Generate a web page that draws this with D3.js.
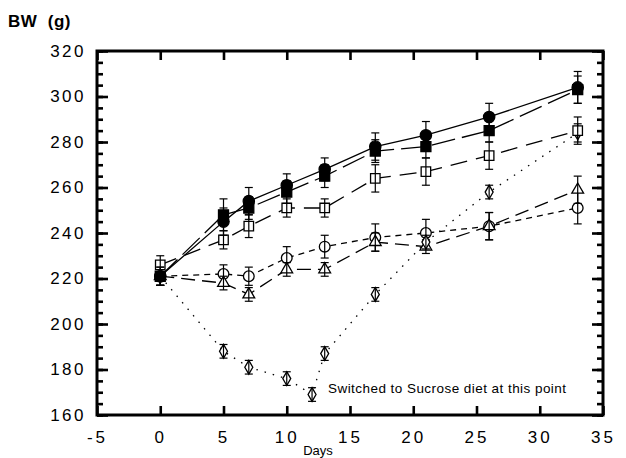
<!DOCTYPE html>
<html>
<head>
<meta charset="utf-8">
<script src="https://cdn.jsdelivr.net/npm/d3@7/dist/d3.min.js"></script>
<style>
    body { margin: 0; background: #fff; }
    svg text { font-family: "Liberation Sans", Arial, Helvetica, sans-serif; fill: #000; }
</style>
</head>
<body>
<svg id="chart" width="626" height="458"></svg>
<script>
// days shared by the five feeding groups
var days = [0, 5, 7, 10, 13, 17, 21, 26, 33];

var filledCircleBW = [221, 245, 254, 261, 268, 278, 283, 291, 304];
var filledCircleErr = [4, 6, 6, 5, 5, 6, 6, 6, 7];

var filledSquareBW = [221, 248, 251, 258, 265, 276, 278, 285, 303];
var filledSquareErr = [4, 7, 5, 5, 5, 5, 5, 5, 6];

var openSquareBW = [226, 237, 243, 251, 251, 264, 267, 274, 285];
var openSquareErr = [4, 4, 5, 4, 4, 6, 6, 6, 6];

var openCircleBW = [221, 222, 221, 229, 234, 238, 240, 243, 251];
var openCircleErr = [4, 4, 4, 5, 5, 6, 6, 6, 7];

var triangleBW = [221, 218, 213, 224, 224, 236, 234, 243, 259];
var triangleErr = [4, 3, 3, 3, 3, 4, 3, 6, 6];

// sucrose group, has extra weighing on day 12
var diamondDays = [0, 5, 7, 10, 12, 13, 17, 21, 26, 33];
var diamondBW = [221, 188, 181, 176, 169, 187, 213, 236, 258, 284];
var diamondErr = [4, 3, 3, 3, 3, 3, 3, 3, 3, 4];

var xTicks = [-5, 0, 5, 10, 15, 20, 25, 30, 35];
var yTicks = [160, 180, 200, 220, 240, 260, 280, 300, 320];

var svg = d3.select('#chart');

var x = d3.scaleLinear().domain([-5, 35]).range([97, 603]);
var y = d3.scaleLinear().domain([160, 320]).range([415, 51]);

function toPoints(xs, ys, es) {
    return xs.map(function (d, i) {
        return { day: d, bw: ys[i], err: es[i] };
    });
}

var series = [
    { pts: toPoints(days, openCircleBW, openCircleErr), dash: '6,5', shape: d3.symbolCircle, size: 90, filled: false },
    { pts: toPoints(days, triangleBW, triangleErr), dash: '14,7', shape: d3.symbolTriangle, size: 60, filled: false },
    { pts: toPoints(diamondDays, diamondBW, diamondErr), dash: '1.5,7', shape: d3.symbolDiamond, size: 55, filled: false },
    { pts: toPoints(days, openSquareBW, openSquareErr), dash: '17,9', shape: d3.symbolSquare, size: 90, filled: false },
    { pts: toPoints(days, filledSquareBW, filledSquareErr), dash: '24,7', shape: d3.symbolSquare, size: 100, filled: true },
    { pts: toPoints(days, filledCircleBW, filledCircleErr), dash: null, shape: d3.symbolCircle, size: 100, filled: true }
];

var line = d3.line()
    .x(function (d) { return x(d.day); })
    .y(function (d) { return y(d.bw); });

// connecting lines first
series.forEach(function (s) {
    svg.append('path')
        .datum(s.pts)
        .attr('d', line)
        .attr('fill', 'none')
        .attr('stroke', '#000')
        .attr('stroke-width', 1.3)
        .attr('stroke-dasharray', s.dash);
});

// markers, then error bars through them
series.forEach(function (s) {
    var g = svg.append('g');
    g.selectAll('path.mark')
        .data(s.pts)
        .enter().append('path')
        .attr('class', 'mark')
        .attr('transform', function (d) { return 'translate(' + x(d.day) + ',' + y(d.bw) + ')'; })
        .attr('d', d3.symbol().type(s.shape).size(s.size))
        .attr('fill', s.filled ? '#000' : '#fff')
        .attr('stroke', '#000')
        .attr('stroke-width', 1.3);

    var eb = g.selectAll('g.err')
        .data(s.pts)
        .enter().append('g')
        .attr('class', 'err')
        .attr('stroke', '#000')
        .attr('stroke-width', 1.2);
    eb.append('line')
        .attr('x1', function (d) { return x(d.day); })
        .attr('x2', function (d) { return x(d.day); })
        .attr('y1', function (d) { return y(d.bw + d.err); })
        .attr('y2', function (d) { return y(d.bw - d.err); });
    [1, -1].forEach(function (sign) {
        eb.append('line')
            .attr('x1', function (d) { return x(d.day) - 4; })
            .attr('x2', function (d) { return x(d.day) + 4; })
            .attr('y1', function (d) { return y(d.bw + sign * d.err); })
            .attr('y2', function (d) { return y(d.bw + sign * d.err); });
    });
});

// axes: ticks pointing inward on all four sides
var yMinor = d3.range(160, 321, 5);

function styleAxis(g) {
    g.select('.domain').remove();
    g.selectAll('.tick line').attr('stroke', '#000').attr('stroke-width', 2.6);
}

svg.append('g')
    .attr('transform', 'translate(0,' + y(160) + ')')
    .call(d3.axisBottom(x).tickValues(xTicks).tickSize(-9).tickPadding(25)
        .tickFormat(function (d) { return d < 0 ? '-' + Math.abs(d) : d; }))
    .call(styleAxis)
    .selectAll('text')
    .attr('font-size', 17)
    .attr('letter-spacing', '3px')
    .attr('dy', '0.2em');

svg.append('g')
    .attr('transform', 'translate(0,' + y(320) + ')')
    .call(d3.axisTop(x).tickValues(xTicks).tickSize(-9).tickFormat(''))
    .call(styleAxis);

svg.append('g')
    .attr('transform', 'translate(' + x(-5) + ',0)')
    .call(d3.axisLeft(y).tickValues(yMinor).tickSize(-6).tickFormat(''))
    .call(styleAxis);

svg.append('g')
    .attr('transform', 'translate(' + x(-5) + ',0)')
    .call(d3.axisLeft(y).tickValues(yTicks).tickSize(-11).tickPadding(11))
    .call(styleAxis)
    .selectAll('text')
    .attr('font-size', 17)
    .attr('letter-spacing', '2.5px');

svg.append('g')
    .attr('transform', 'translate(' + x(35) + ',0)')
    .call(d3.axisRight(y).tickValues(yMinor).tickSize(-6).tickFormat(''))
    .call(styleAxis);

svg.append('g')
    .attr('transform', 'translate(' + x(35) + ',0)')
    .call(d3.axisRight(y).tickValues(yTicks).tickSize(-11).tickFormat(''))
    .call(styleAxis);

// frame
svg.append('rect')
    .attr('x', x(-5))
    .attr('y', y(320))
    .attr('width', x(35) - x(-5))
    .attr('height', y(160) - y(320))
    .attr('fill', 'none')
    .attr('stroke', '#000')
    .attr('stroke-width', 3);

svg.append('text')
    .attr('x', 8)
    .attr('y', 27)
    .attr('font-size', 17)
    .attr('font-weight', 'bold')
    .attr('letter-spacing', '0.5px')
    .attr('xml:space', 'preserve')
    .text('BW  (g)');

svg.append('text')
    .attr('x', 318)
    .attr('y', 455)
    .attr('text-anchor', 'middle')
    .attr('font-size', 13)
    .text('Days');

svg.append('text')
    .attr('x', 328)
    .attr('y', 393)
    .attr('font-size', 13.5)
    .attr('letter-spacing', '0.45px')
    .text('Switched to Sucrose diet at this point');
</script>
</body>
</html>
